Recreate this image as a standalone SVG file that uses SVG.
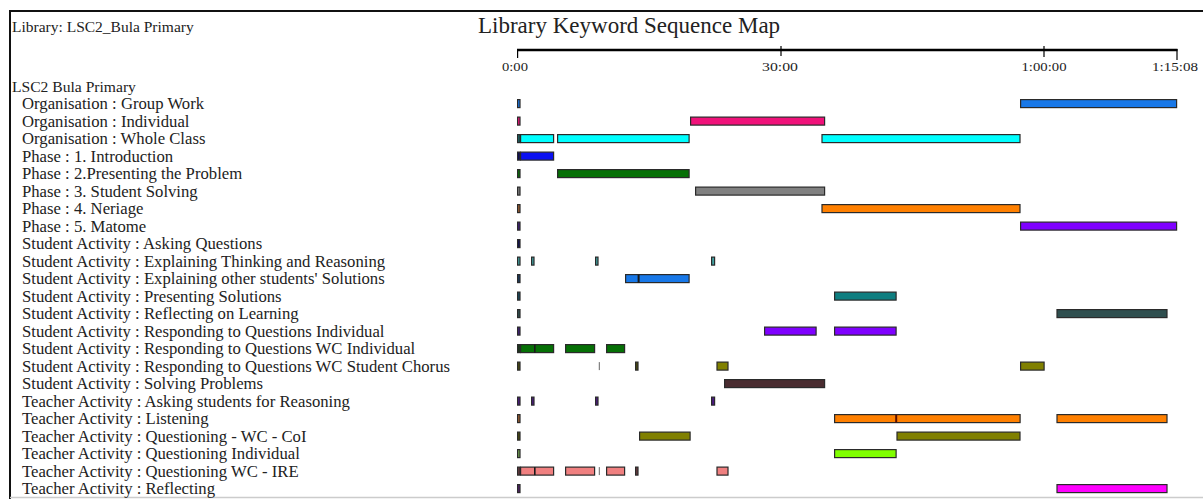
<svg xmlns="http://www.w3.org/2000/svg" width="1203" height="499" viewBox="0 0 1203 499">
<style>
.t{font-family:"Liberation Serif","Times New Roman",serif;fill:#222}
.lab{font-size:16.7px}
.ax{font-size:13px;text-anchor:middle}
.b{stroke:#2a2a2a;stroke-width:1.2}
.sep{fill:#1a1a1a}
.thin{fill:#666}
</style>
<rect width="1203" height="499" fill="#fff"/>
<g id="frame">
<line x1="10" y1="11" x2="1203" y2="11" stroke="#111" stroke-width="2"/>
<line x1="10" y1="10" x2="10" y2="499" stroke="#111" stroke-width="2"/>
<line x1="10" y1="497.5" x2="1203" y2="497.5" stroke="#ccc" stroke-width="1.5"/>
</g>
<g id="header">
<text class="t" x="12" y="32" font-size="15.5">Library: LSC2_Bula Primary</text>
<text class="t" x="478" y="33" font-size="23">Library Keyword Sequence Map</text>
<text class="t" x="12" y="91.6" font-size="15.6">LSC2 Bula Primary</text>
</g>
<g id="axis">
<line x1="517" y1="50" x2="1177.5" y2="50" stroke="#000" stroke-width="2.6"/>
<g stroke="#000" stroke-width="1.2">
<line x1="517.6" y1="49" x2="517.6" y2="58"/>
<line x1="781" y1="46" x2="781" y2="56"/>
<line x1="1044" y1="46" x2="1044" y2="57"/>
<line x1="1177" y1="49" x2="1177" y2="60"/>
</g>
<text class="t ax" x="515" y="71" textLength="26" lengthAdjust="spacingAndGlyphs">0:00</text>
<text class="t ax" x="780" y="71" textLength="36" lengthAdjust="spacingAndGlyphs">30:00</text>
<text class="t ax" x="1044" y="71" textLength="45" lengthAdjust="spacingAndGlyphs">1:00:00</text>
<text class="t ax" x="1175" y="71" textLength="46" lengthAdjust="spacingAndGlyphs">1:15:08</text>
</g>
<g id="rows">
<g id="r0" transform="translate(0,103.6)">
<text class="t lab" x="22" y="5.5">Organisation : Group Work</text>
<g class="b" fill="#1878E8"><rect x="517.6" y="-4" width="2.4" height="8"/><rect x="1020.6" y="-4" width="156" height="8"/></g>
</g>
<g id="r1" transform="translate(0,121.1)">
<text class="t lab" x="22" y="5.5">Organisation : Individual</text>
<g class="b" fill="#F0127A"><rect x="517.6" y="-4" width="2.4" height="8"/><rect x="690.6" y="-4" width="134" height="8"/></g>
</g>
<g id="r2" transform="translate(0,138.6)">
<text class="t lab" x="22" y="5.5">Organisation : Whole Class</text>
<g class="b" fill="#00FFFF"><rect x="520.6" y="-4" width="33" height="8"/><rect x="557.6" y="-4" width="131.5" height="8"/><rect x="822" y="-4" width="198" height="8"/><rect x="517.6" y="-4" width="2.4" height="8" fill="#1a6a6a"/></g>
</g>
<g id="r3" transform="translate(0,156.1)">
<text class="t lab" x="22" y="5.5">Phase : 1. Introduction</text>
<g class="b" fill="#0A10F0"><rect x="520.6" y="-4" width="33" height="8"/><rect x="517.6" y="-4" width="2.4" height="8" fill="#0a0a60"/></g>
</g>
<g id="r4" transform="translate(0,173.6)">
<text class="t lab" x="22" y="5.5">Phase : 2.Presenting the Problem</text>
<g class="b" fill="#067006"><rect x="517.6" y="-4" width="2.4" height="8"/><rect x="557.6" y="-4" width="131.5" height="8"/></g>
</g>
<g id="r5" transform="translate(0,191.1)">
<text class="t lab" x="22" y="5.5">Phase : 3. Student Solving</text>
<g class="b" fill="#808080"><rect x="517.6" y="-4" width="2.4" height="8"/><rect x="695.6" y="-4" width="129" height="8"/></g>
</g>
<g id="r6" transform="translate(0,208.6)">
<text class="t lab" x="22" y="5.5">Phase : 4. Neriage</text>
<g class="b" fill="#FF8000"><rect x="517.6" y="-4" width="2.4" height="8" fill="#a06030"/><rect x="822" y="-4" width="198" height="8"/></g>
</g>
<g id="r7" transform="translate(0,226.1)">
<text class="t lab" x="22" y="5.5">Phase : 5. Matome</text>
<g class="b" fill="#7F00FF"><rect x="517.6" y="-4" width="2.4" height="8" fill="#40207a"/><rect x="1020.6" y="-4" width="156" height="8"/></g>
</g>
<g id="r8" transform="translate(0,243.6)">
<text class="t lab" x="22" y="5.5">Student Activity : Asking Questions</text>
<g class="b" fill="#101050"><rect x="517.6" y="-4" width="2.4" height="8"/></g>
</g>
<g id="r9" transform="translate(0,261.1)">
<text class="t lab" x="22" y="5.5">Student Activity : Explaining Thinking and Reasoning</text>
<g class="b" fill="#40A0A0"><rect x="517.6" y="-4" width="2.4" height="8"/><rect x="531.6" y="-4" width="2.4" height="8"/><rect x="595.6" y="-4" width="2.4" height="8"/><rect x="711.6" y="-4" width="3" height="8"/></g>
</g>
<g id="r10" transform="translate(0,278.6)">
<text class="t lab" x="22" y="5.5">Student Activity : Explaining other students' Solutions</text>
<g class="b" fill="#1878E8"><rect x="517.6" y="-4" width="2.4" height="8" fill="#1a3a60"/><rect x="625.6" y="-4" width="63.5" height="8"/></g>
<rect class="sep" x="637.6" y="-4" width="2" height="8"/>
</g>
<g id="r11" transform="translate(0,296.1)">
<text class="t lab" x="22" y="5.5">Student Activity : Presenting Solutions</text>
<g class="b" fill="#0E7E80"><rect x="517.6" y="-4" width="2.4" height="8" fill="#1a4a60"/><rect x="834.6" y="-4" width="61.5" height="8"/></g>
</g>
<g id="r12" transform="translate(0,313.6)">
<text class="t lab" x="22" y="5.5">Student Activity : Reflecting on Learning</text>
<g class="b" fill="#2F4F4F"><rect x="517.6" y="-4" width="2.4" height="8"/><rect x="1057" y="-4" width="110" height="8"/></g>
</g>
<g id="r13" transform="translate(0,331.1)">
<text class="t lab" x="22" y="5.5">Student Activity : Responding to Questions Individual</text>
<g class="b" fill="#7F00FF"><rect x="517.6" y="-4" width="2.4" height="8" fill="#40207a"/><rect x="764.6" y="-4" width="51.5" height="8"/><rect x="834.6" y="-4" width="61.5" height="8"/></g>
</g>
<g id="r14" transform="translate(0,348.6)">
<text class="t lab" x="22" y="5.5">Student Activity : Responding to Questions WC Individual</text>
<g class="b" fill="#067006"><rect x="520.6" y="-4" width="33" height="8"/><rect x="565.6" y="-4" width="29" height="8"/><rect x="606.6" y="-4" width="18" height="8"/><rect x="517.6" y="-4" width="2.4" height="8" fill="#1a3a1a"/></g>
<rect class="sep" x="534" y="-4" width="1.6" height="8"/>
</g>
<g id="r15" transform="translate(0,366.1)">
<text class="t lab" x="22" y="5.5">Student Activity : Responding to Questions WC Student Chorus</text>
<g class="b" fill="#808000"><rect x="517.6" y="-4" width="2.4" height="8" fill="#4a4a10"/><rect x="635.6" y="-4" width="2.4" height="8" fill="#4a4a10"/><rect x="717" y="-4" width="11" height="8"/><rect x="1020.6" y="-4" width="23.5" height="8"/></g>
<rect class="thin" x="598.8" y="-4" width="1" height="8"/>
</g>
<g id="r16" transform="translate(0,383.6)">
<text class="t lab" x="22" y="5.5">Student Activity : Solving Problems</text>
<g class="b" fill="#4A2C30"><rect x="724.6" y="-4" width="100" height="8"/></g>
</g>
<g id="r17" transform="translate(0,401.1)">
<text class="t lab" x="22" y="5.5">Teacher Activity : Asking students for Reasoning</text>
<g class="b" fill="#4B1A82"><rect x="517.6" y="-4" width="2.4" height="8"/><rect x="531.6" y="-4" width="2.4" height="8"/><rect x="595.6" y="-4" width="2.4" height="8"/><rect x="711.6" y="-4" width="3" height="8"/></g>
</g>
<g id="r18" transform="translate(0,418.6)">
<text class="t lab" x="22" y="5.5">Teacher Activity : Listening</text>
<g class="b" fill="#FF8000"><rect x="517.6" y="-4" width="2.4" height="8" fill="#a06030"/><rect x="834.6" y="-4" width="185.5" height="8"/><rect x="1057" y="-4" width="110" height="8"/></g>
<rect x="895.2" y="-4" width="2" height="8" fill="#5a1000"/>
</g>
<g id="r19" transform="translate(0,436.1)">
<text class="t lab" x="22" y="5.5">Teacher Activity : Questioning - WC - CoI</text>
<g class="b" fill="#808000"><rect x="517.6" y="-4" width="2.4" height="8" fill="#4a4a10"/><rect x="639.6" y="-4" width="50.5" height="8"/><rect x="897" y="-4" width="123" height="8"/></g>
</g>
<g id="r20" transform="translate(0,453.6)">
<text class="t lab" x="22" y="5.5">Teacher Activity : Questioning Individual</text>
<g class="b" fill="#80FF00"><rect x="517.6" y="-4" width="2.4" height="8" fill="#70a050"/><rect x="834.6" y="-4" width="61.5" height="8"/></g>
</g>
<g id="r21" transform="translate(0,471.1)">
<text class="t lab" x="22" y="5.5">Teacher Activity : Questioning WC - IRE</text>
<g class="b" fill="#F08080"><rect x="520.6" y="-4" width="33" height="8"/><rect x="565.6" y="-4" width="29" height="8"/><rect x="606.6" y="-4" width="18" height="8"/><rect x="635.6" y="-4" width="2.4" height="8" fill="#6a3a40"/><rect x="717" y="-4" width="11" height="8"/><rect x="517.6" y="-4" width="2.4" height="8" fill="#6a3a40"/></g>
<rect class="sep" x="534" y="-4" width="1.6" height="8"/>
<rect class="thin" x="598.8" y="-4" width="1" height="8"/>
</g>
<g id="r22" transform="translate(0,488.6)">
<text class="t lab" x="22" y="5.5">Teacher Activity : Reflecting</text>
<g class="b" fill="#FF00FF"><rect x="517.6" y="-4" width="2.4" height="8" fill="#50206a"/><rect x="1057" y="-4" width="110" height="8"/></g>
</g>
</g>
</svg>
